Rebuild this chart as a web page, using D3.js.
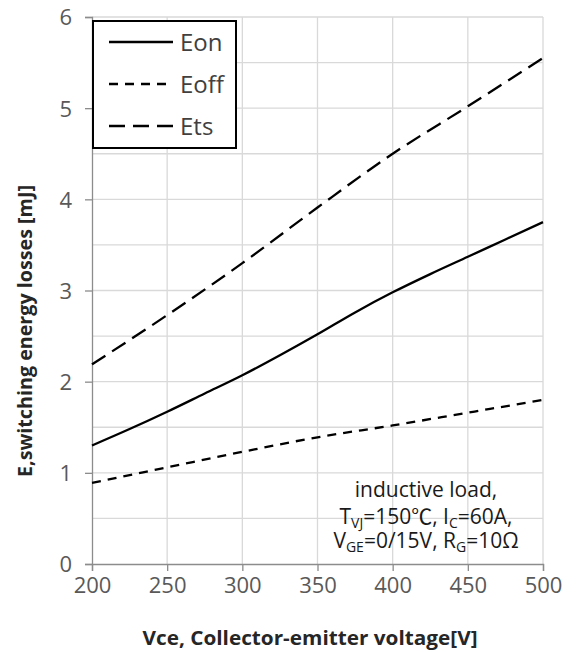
<!DOCTYPE html>
<html><head><meta charset="utf-8">
<script src="https://cdn.jsdelivr.net/npm/d3@7"></script>
<style>body{margin:0;background:#fff}svg{display:block}</style>
</head><body>
<svg id="c" width="578" height="652"></svg>
<script>
// Data
const voltages = [200, 250, 300, 350, 400, 450, 500];
const eonVoltages = [200, 225, 250, 275, 300, 325, 350, 375, 400, 425, 450, 475, 500];
const eonValues = [1.30, 1.48, 1.67, 1.87, 2.07, 2.29, 2.52, 2.76, 2.98, 3.18, 3.37, 3.56, 3.75];
const eoffValues = [0.89, 1.06, 1.23, 1.39, 1.52, 1.66, 1.80];
const etsValues = [2.19, 2.73, 3.30, 3.91, 4.50, 5.02, 5.55];
const xTicks = [200, 250, 300, 350, 400, 450, 500];
const yTicks = [0, 1, 2, 3, 4, 5, 6];
const yGrid = [0.5, 1, 1.5, 2, 2.5, 3, 3.5, 4, 4.5, 5, 5.5, 6];
const seriesNames = ["Eon", "Eoff", "Ets"];

const svg = d3.select("#c");
const L = 92, R = 543, T = 17, B = 564;
const x = d3.scaleLinear().domain([200, 500]).range([L, R]);
const y = d3.scaleLinear().domain([0, 6]).range([B, T]);
const FONT = "'Open Sans', 'Noto Sans CJK KR', sans-serif";

// grid
svg.append("g").selectAll("line.v").data(xTicks.slice(1)).join("line")
  .attr("x1", d => x(d)).attr("x2", d => x(d)).attr("y1", T).attr("y2", B)
  .attr("stroke", "#d9d9d9").attr("stroke-width", 1.3);
svg.append("g").selectAll("line.h").data(yGrid).join("line")
  .attr("x1", L).attr("x2", R).attr("y1", d => y(d)).attr("y2", d => y(d))
  .attr("stroke", "#d9d9d9").attr("stroke-width", 1.3);

// axes
const xAxis = d3.axisBottom(x).tickValues(xTicks).tickSize(7).tickPadding(6).tickFormat(d3.format("d"));
const gx = svg.append("g").attr("transform", `translate(0,${B})`).call(xAxis);
const yAxis = d3.axisLeft(y).tickValues(yTicks).tickSize(7).tickPadding(13).tickFormat(d3.format("d"));
const gy = svg.append("g").attr("transform", `translate(${L},0)`).call(yAxis);
[gx, gy].forEach(g => {
  g.select(".domain").attr("stroke", "#8c8c8c").attr("stroke-width", 1.3);
  g.selectAll(".tick line").attr("stroke", "#8c8c8c").attr("stroke-width", 1.3);
  g.selectAll(".tick text").attr("fill", "#595959").style("font-family", FONT).style("font-size", "22px");
});
gy.selectAll(".tick text").attr("dy", "0.36em");

// lines
const line = d3.line().x(d => x(d[0])).y(d => y(d[1])).curve(d3.curveMonotoneX);
const dashes = ["none", "9,7", "16,8"];
const seriesData = [
  eonVoltages.map((v, i) => [v, eonValues[i]]),
  voltages.map((v, i) => [v, eoffValues[i]]),
  voltages.map((v, i) => [v, etsValues[i]])
];
seriesData.forEach((s, i) => {
  svg.append("path").attr("d", line(s)).attr("fill", "none")
    .attr("stroke", "#000").attr("stroke-width", 2.3)
    .attr("stroke-dasharray", dashes[i] === "none" ? null : dashes[i]);
});

// legend
const lg = svg.append("g");
lg.append("rect").attr("x", 93).attr("y", 21).attr("width", 143).attr("height", 127)
  .attr("fill", "#fff").attr("stroke", "#000").attr("stroke-width", 2);
seriesNames.forEach((n, i) => {
  const yy = 42 + i * 42;
  lg.append("line").attr("x1", 109).attr("x2", 173).attr("y1", yy).attr("y2", yy)
    .attr("stroke", "#000").attr("stroke-width", 2.3)
    .attr("stroke-dasharray", dashes[i] === "none" ? null : dashes[i]);
  lg.append("text").attr("x", 180).attr("y", yy + 9).text(n)
    .attr("fill", "#404040").style("font-family", FONT).style("font-size", "24px");
});

// annotation
const ann = svg.append("g").style("font-family", FONT).style("font-size", "21px").attr("fill", "#1a1a1a");
ann.append("text").attr("x", 426).attr("y", 497).attr("text-anchor", "middle").text("inductive load,");
const t2 = ann.append("text").attr("x", 426).attr("y", 524).attr("text-anchor", "middle");
t2.append("tspan").text("T");
t2.append("tspan").attr("dy", 4).style("font-size", "14px").text("VJ");
t2.append("tspan").attr("dy", -4).text("=150℃, I");
t2.append("tspan").attr("dy", 4).style("font-size", "14px").text("C");
t2.append("tspan").attr("dy", -4).text("=60A,");
const t3 = ann.append("text").attr("x", 426).attr("y", 548).attr("text-anchor", "middle");
t3.append("tspan").text("V");
t3.append("tspan").attr("dy", 4).style("font-size", "14px").text("GE");
t3.append("tspan").attr("dy", -4).text("=0/15V, R");
t3.append("tspan").attr("dy", 4).style("font-size", "14px").text("G");
t3.append("tspan").attr("dy", -4).text("=10Ω");

// axis titles
svg.append("text").attr("x", 310).attr("y", 645).attr("text-anchor", "middle")
  .attr("fill", "#262626").style("font-family", FONT).style("font-weight", "bold").style("font-size", "20px")
  .attr("textLength", 335).attr("lengthAdjust", "spacingAndGlyphs")
  .text("Vce, Collector-emitter voltage[V]");
svg.append("text").attr("transform", "translate(32,477) rotate(-90)").attr("text-anchor", "start")
  .attr("fill", "#262626").style("font-family", FONT).style("font-weight", "bold").style("font-size", "20px")
  .attr("textLength", 292).attr("lengthAdjust", "spacingAndGlyphs")
  .text("E,switching energy losses [mJ]");
</script>
</body></html>
